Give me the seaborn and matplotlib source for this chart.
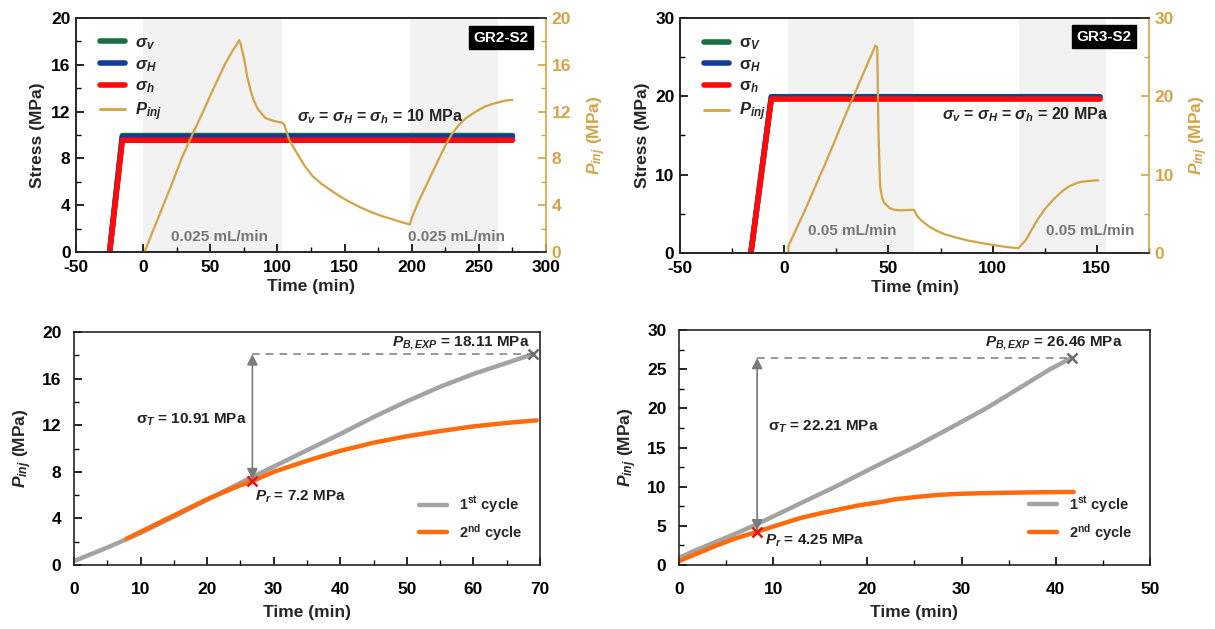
import numpy as np
import pandas as pd
import matplotlib
matplotlib.use("Agg")
import matplotlib.pyplot as plt
import seaborn as sns
from matplotlib.lines import Line2D
from matplotlib.ticker import MultipleLocator

# ---------------- GR2-S2 : stress path and injection pressure ----------------
gr2_stress_time = [-25, -15.5, 275]
gr2_sigma_v = [0, 9.95, 9.95]
gr2_sigma_H = [0, 9.85, 9.85]
gr2_sigma_h = [0, 9.55, 9.55]

gr2_time = [1.0, 8, 15, 22, 28.6, 36.5, 44.6, 52.5, 60.7, 66, 69.5, 71.4,
            72.5, 75, 77.5, 80, 82.5, 85.5, 91, 97, 103.5, 105, 108.7, 114.5,
            120, 126, 133, 140.7, 148, 155, 162, 170, 177, 184, 191, 198.5,
            200, 205, 210, 215, 220, 225, 230, 235, 240, 245, 250, 255, 260,
            265, 270, 275]
gr2_pinj = [0.0, 2.0, 4.0, 6.0, 8.0, 10.0, 12.0, 14.0, 16.0, 17.1, 17.7, 18.1,
            17.8, 16.6, 15.0, 13.8, 12.9, 12.2, 11.45, 11.2, 11.05, 10.9, 9.6, 8.45,
            7.4, 6.5, 5.8, 5.2, 4.65, 4.2, 3.8, 3.4, 3.1, 2.85, 2.6, 2.35,
            2.9, 4.3, 5.5, 6.7, 7.9, 9.1, 10.1, 10.85, 11.4, 11.8, 12.15, 12.45, 12.65,
            12.8, 12.95, 13.0]
gr2_inject_start = [0, 198.5]
gr2_inject_end = [103.5, 264.5]
gr2_rate_text = ["0.025 mL/min", "0.025 mL/min"]
gr2_rate_x = [57, 233.6]

# ---------------- GR3-S2 : stress path and injection pressure ----------------
gr3_stress_time = [-16, -6.2, 151.5]
gr3_sigma_v = [0, 19.95, 19.95]
gr3_sigma_H = [0, 19.9, 19.9]
gr3_sigma_h = [0, 19.65, 19.65]

gr3_time = [1.9, 2.0, 10, 20, 30, 40, 43.7, 44.6, 45.2, 46, 47, 48, 50.7, 53,
            56.3, 60, 62.3, 63.8, 66, 69.4, 73, 76.9, 82, 88, 94, 101, 107, 112.3,
            116, 119, 121.6, 125, 129, 133, 136.6, 140, 142, 146, 150.6]
gr3_pinj = [0.0, 0.9, 5.5, 11.6, 18.0, 24.2, 26.46, 26.3, 15.3, 8.5, 7.0, 6.4, 5.7, 5.5,
            5.45, 5.5, 5.5, 4.7, 4.1, 3.4, 2.85, 2.4, 2.0, 1.6, 1.3, 0.98, 0.75, 0.6,
            1.7, 3.1, 4.3, 5.6, 6.8, 7.8, 8.5, 8.9, 9.06, 9.2, 9.28]
gr3_inject_start = [2, 112.5]
gr3_inject_end = [62.3, 154.3]
gr3_rate_text = ["0.05 mL/min", "0.05 mL/min"]
gr3_rate_x = [32.7, 147]

# ---------------- GR2-S2 : first vs second injection cycle ----------------
gr2_c1_time = [0, 5, 10, 15, 20, 25, 30, 35, 40, 45, 50, 55, 60, 65, 69]
gr2_c1_pinj = [0.34, 1.5, 2.75, 4.15, 5.6, 7.05, 8.45, 9.85, 11.25, 12.7, 14.05,
               15.3, 16.4, 17.35, 18.11]
gr2_c2_time = [7.9, 10, 15, 20, 25, 26.8, 30, 35, 40, 45, 50, 55, 60, 65, 69.5]
gr2_c2_pinj = [2.25, 2.85, 4.25, 5.65, 6.85, 7.2, 8.0, 8.95, 9.8, 10.5, 11.05,
               11.5, 11.9, 12.2, 12.42]
gr2_breakdown = (69.0, 18.11)
gr2_reopen = (26.8, 7.2)
gr2_tensile = 10.91

# ---------------- GR3-S2 : first vs second injection cycle ----------------
gr3_c1_time = [0, 2, 4, 6, 7.9, 10, 12.5, 16.6, 20.7, 24.9, 28.8, 32.6, 36, 39.4, 41.7]
gr3_c1_pinj = [0.93, 2.0, 3.0, 4.0, 5.0, 6.2, 7.65, 10.0, 12.5, 15.0, 17.5, 20.0,
               22.5, 25.0, 26.46]
gr3_c2_time = [0, 2, 4, 6, 8.3, 10.5, 12.9, 15, 17, 19, 21.2, 23, 25.3, 27.5, 29.5,
               31.5, 33.6, 36, 39, 41.9]
gr3_c2_pinj = [0.5, 1.5, 2.5, 3.4, 4.25, 5.1, 6.0, 6.6, 7.1, 7.6, 8.0, 8.4, 8.7, 8.95,
               9.08, 9.15, 9.2, 9.25, 9.3, 9.33]
gr3_breakdown = (41.7, 26.46)
gr3_reopen = (8.3, 4.25)
gr3_tensile = 22.21

# ---------------- styling ----------------
GREEN = "#1b6e3f"
BLUE = "#123c9c"
RED = "#ff0a0a"
GOLD = "#d2a444"
GRAY = "#a3a3a3"
ORANGE = "#ff6a0c"
SHADE = "#f2f2f2"
ARROW = "#7b7b7b"
TICK_FS = 12.5

sns.set_style("ticks")
FAM = "Liberation Sans"
plt.rcParams.update({
    "font.family": [FAM, "DejaVu Sans"],
    "font.weight": "bold",
    "axes.labelweight": "bold",
    "axes.unicode_minus": False,
    "mathtext.fontset": "custom",
    "mathtext.it": f"{FAM}:italic:bold",
    "mathtext.bf": f"{FAM}:bold",
    "mathtext.rm": f"{FAM}:bold",
    "mathtext.sf": f"{FAM}",
    "axes.linewidth": 1.2,
    "xtick.color": "black",
    "ytick.color": "black",
})

fig = plt.figure(figsize=(12.15, 6.29), dpi=100)
ax_tl = fig.add_axes([0.0626, 0.5994, 0.3868, 0.372])
ax_tr = fig.add_axes([0.5597, 0.5978, 0.386, 0.3736])
ax_bl = fig.add_axes([0.0609, 0.1017, 0.3835, 0.3704])
ax_br = fig.add_axes([0.5588, 0.1017, 0.3877, 0.3736])


def set_ticks(ax, xmaj, ymaj, xpad, ypad, fs=TICK_FS):
    ax.xaxis.set_major_locator(MultipleLocator(xmaj))
    ax.xaxis.set_minor_locator(MultipleLocator(xmaj / 2))
    ax.yaxis.set_major_locator(MultipleLocator(ymaj))
    ax.yaxis.set_minor_locator(MultipleLocator(ymaj / 2))
    ax.tick_params(which="major", direction="in", length=6, width=1.2,
                   top=False, right=False, labelsize=fs)
    ax.tick_params(which="minor", direction="in", length=3.5, width=1.0,
                   top=False, right=False)
    ax.tick_params(axis="x", which="major", pad=xpad)
    ax.tick_params(axis="y", which="major", pad=ypad)
    for lab in ax.get_xticklabels() + ax.get_yticklabels():
        lab.set_fontweight("bold")


def stress_panel(ax, st, sv, sH, sh, t, p, s0, s1, rate_txt, rate_x, rate_y,
                 xlim, ylim, ymaj, tag, tag_xy, eq_txt, eq_xy, greek_regular,
                 leg_anchor):
    for a, b in zip(s0, s1):
        ax.axvspan(a, b, color=SHADE, zorder=0, lw=0)
    sns.lineplot(x=st, y=sv, ax=ax, color=GREEN, lw=4, estimator=None, sort=False, legend=False)
    sns.lineplot(x=st, y=sH, ax=ax, color=BLUE, lw=4, estimator=None, sort=False, legend=False)
    sns.lineplot(x=st, y=sh, ax=ax, color=RED, lw=4, estimator=None, sort=False, legend=False)
    ax.set_xlim(*xlim)
    ax.set_ylim(*ylim)
    set_ticks(ax, 50, ymaj, xpad=6, ypad=4)
    ax.spines["right"].set_visible(False)
    ax.set_xlabel("Time (min)", fontsize=12.5, labelpad=3)
    ax.set_ylabel("Stress (MPa)", fontsize=12.5, labelpad=4)
    for txt, xc in zip(rate_txt, rate_x):
        ax.text(xc, rate_y, txt, ha="center", va="center", fontsize=11,
                color="#777777", fontweight="bold")

    ax2 = ax.twinx()
    sns.lineplot(x=t, y=p, ax=ax2, color=GOLD, lw=1.6, estimator=None, sort=False, legend=False)
    ax2.set_ylim(*ylim)
    ax2.yaxis.set_major_locator(MultipleLocator(ymaj))
    ax2.yaxis.set_minor_locator(MultipleLocator(ymaj / 2))
    ax2.tick_params(which="major", direction="in", length=6, width=1.2, colors=GOLD,
                    labelsize=TICK_FS, pad=4)
    ax2.tick_params(which="minor", direction="in", length=3.5, width=1.0, colors=GOLD)
    for lab in ax2.get_yticklabels():
        lab.set_fontweight("bold")
    ax2.spines["right"].set_color(GOLD)
    ax2.spines["right"].set_linewidth(1.2)
    ax2.set_ylabel(r"$P_{inj}$ (MPa)", color=GOLD, fontsize=12.5, labelpad=10)

    ax2.text(tag_xy[0], tag_xy[1], tag, ha="center", va="center", color="white",
             fontsize=11, fontweight="bold",
             bbox=dict(boxstyle="square,pad=0.3", fc="black", ec="black"))
    ax2.text(eq_xy[0], eq_xy[1], eq_txt, ha="left", va="center", fontsize=11.5,
             fontweight="bold")

    if greek_regular:
        labels = [r"$\mathsf{\sigma}_V$", r"$\mathsf{\sigma}_H$", r"$\mathsf{\sigma}_h$", r"$P_{inj}$"]
    else:
        labels = [r"$\sigma_v$", r"$\sigma_H$", r"$\sigma_h$", r"$P_{inj}$"]
    handles = [Line2D([], [], color=GREEN, lw=4), Line2D([], [], color=BLUE, lw=4),
               Line2D([], [], color=RED, lw=4), Line2D([], [], color=GOLD, lw=2)]
    ax2.legend(handles, labels, loc="upper left", bbox_to_anchor=leg_anchor,
               frameon=False, fontsize=12, handlelength=1.5, handletextpad=0.6,
               labelspacing=0.3)
    return ax2


stress_panel(ax_tl, gr2_stress_time, gr2_sigma_v, gr2_sigma_H, gr2_sigma_h,
             gr2_time, gr2_pinj, gr2_inject_start, gr2_inject_end,
             gr2_rate_text, gr2_rate_x, 1.28, (-50, 300), (0, 20), 4,
             "GR2-S2", (266.6, 18.3),
             r"$\sigma_v$ = $\sigma_H$ = $\sigma_h$ = 10 MPa", (114.5, 11.55),
             False, (0.02, 0.99))
stress_panel(ax_tr, gr3_stress_time, gr3_sigma_v, gr3_sigma_H, gr3_sigma_h,
             gr3_time, gr3_pinj, gr3_inject_start, gr3_inject_end,
             gr3_rate_text, gr3_rate_x, 2.77, (-50, 175), (0, 30), 10,
             "GR3-S2", (153.4, 27.6),
             r"$\sigma_v$ = $\sigma_H$ = $\sigma_h$ = 20 MPa", (75.9, 17.66),
             True, (0.02, 0.99))


def cycle_panel(ax, t1, p1, t2, p2, bd, ro, tens, xlim, ylim, xmaj, ymaj,
                sig_xy, sig_ha, bd_xy, ro_xy):
    sns.lineplot(x=t1, y=p1, ax=ax, color=GRAY, lw=3.2, estimator=None, sort=False, legend=False)
    sns.lineplot(x=t2, y=p2, ax=ax, color=ORANGE, lw=3.2, estimator=None, sort=False, legend=False)
    ax.set_xlim(*xlim)
    ax.set_ylim(*ylim)
    set_ticks(ax, xmaj, ymaj, xpad=12, ypad=9)
    ax.set_xlabel("Time (min)", fontsize=12.5, labelpad=6)
    ax.set_ylabel(r"$P_{inj}$ (MPa)", fontsize=12.5, labelpad=6)

    ax.hlines(bd[1], ro[0], bd[0], colors=ARROW, linestyles=(0, (5, 4)), lw=1.1, zorder=3)
    ax.annotate("", xy=(ro[0], bd[1]), xytext=(ro[0], ro[1] + 0.15),
                arrowprops=dict(arrowstyle="<|-|>", color=ARROW, lw=1.2,
                                mutation_scale=16, shrinkA=0, shrinkB=0), zorder=4)
    ax.plot([bd[0]], [bd[1]], marker="x", color="#6e6e6e", ms=7, mew=1.8, zorder=5)
    ax.plot([ro[0]], [ro[1]], marker="x", color="#e0161c", ms=7, mew=1.8, zorder=5)

    ax.text(sig_xy[0], sig_xy[1], r"$\mathsf{\sigma}_T$" + f" = {tens:.2f} MPa",
            ha=sig_ha, va="center", fontsize=11, fontweight="bold", color="#222222")
    ax.text(bd_xy[0], bd_xy[1], r"$P_{B,EXP}$" + f" = {bd[1]:.2f} MPa",
            ha="right", va="center", fontsize=11, fontweight="bold", color="#222222")
    ro_txt = f"{ro[1]:g}"
    ax.text(ro_xy[0], ro_xy[1], r"$P_r$" + f" = {ro_txt} MPa",
            ha="left", va="center", fontsize=11, fontweight="bold", color="#222222")

    handles = [Line2D([], [], color=GRAY, lw=3.2), Line2D([], [], color=ORANGE, lw=3.2)]
    labels = [r"1$^{\mathbf{st}}$ cycle", r"2$^{\mathbf{nd}}$ cycle"]
    ax.legend(handles, labels, loc="lower right", bbox_to_anchor=(0.99, 0.04),
              frameon=False, fontsize=10.5, handlelength=1.9, handletextpad=0.8,
              labelspacing=0.45)


cycle_panel(ax_bl, gr2_c1_time, gr2_c1_pinj, gr2_c2_time, gr2_c2_pinj,
            gr2_breakdown, gr2_reopen, gr2_tensile, (0, 70), (0, 20), 10, 4,
            (25.9, 12.5), "right", (68.4, 19.05), (27.2, 5.9))
cycle_panel(ax_br, gr3_c1_time, gr3_c1_pinj, gr3_c2_time, gr3_c2_pinj,
            gr3_breakdown, gr3_reopen, gr3_tensile, (0, 50), (0, 30), 10, 5,
            (9.4, 17.7), "left", (47.1, 28.3), (9.1, 3.05))

fig.savefig("out.png", dpi=100)
